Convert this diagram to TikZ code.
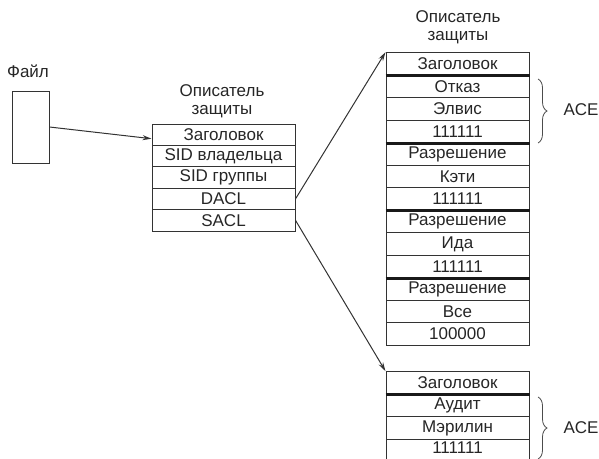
\documentclass[tikz,border=0pt]{standalone}
\usepackage{fontspec}
\setmainfont{Liberation Sans}
\usetikzlibrary{positioning}
\usetikzlibrary{arrows.meta}
\usetikzlibrary{decorations.pathreplacing}
\tikzstyle{rowbox}=[rectangle,draw=black!80,line width=1pt,minimum width=143pt,minimum height=21.4pt,inner sep=0pt,text=black!85]
\tikzstyle{acerow}=[rowbox,minimum height=22.5pt]
\tikzstyle{sepline}=[draw,black!90,line width=3pt]
\tikzstyle{edge}=[draw,line width=1pt,black!80,-{Stealth[length=9pt,width=5pt]}]
\tikzstyle{headtext}=[align=center,text=black!85]
\tikzstyle{acebrace}=[draw,black!70,line width=0.8pt,decorate,decoration={brace,amplitude=9pt}]
\begin{document}
\begin{tikzpicture}[x=1pt,y=-1pt,font=\fontsize{17}{18}\selectfont]
    \useasboundingbox (0,0) rectangle (599,458);
    \clip (0,0) rectangle (599,458);
    % The file and its descriptor
    \node[headtext] (filetext) at (28,71) {Файл};
    \node[draw=black!80,line width=1pt,minimum width=37pt,minimum height=72pt] (file) at (30.5,127) {};
    \node[headtext] (midtitle) at (222,101) {Описатель\\защиты};

    \foreach \pos/\name/\label in {{(223.5,134.7)/m1/Заголовок}, {(223.5,156.1)/m2/SID владельца},
        {(223.5,177.5)/m3/SID группы}, {(223.5,198.9)/m4/DACL}, {(223.5,220.3)/m5/SACL}}
        \node[rowbox] (\name) at \pos {\label};

    % Now the two lists of ACEs
    \node[headtext] (toptitle) at (458,27) {Описатель\\защиты};
    \foreach \label [count=\i] in {Заголовок, Отказ, Элвис, 111111, Разрешение, Кэти, 111111,
        Разрешение, Ида, 111111, Разрешение, Все, 100000}
        \node[acerow] (r\i) at (457.5,41.45+22.5*\i) {\label};

    \foreach \pos/\name/\label in {{(457.5,382.95)/b1/Заголовок}, {(457.5,405.45)/b2/Аудит},
        {(457.5,427.95)/b3/Мэрилин}}
        \node[acerow] (\name) at \pos {\label};
    \node[acerow,text depth=6pt] (b4) at (457.5,450.45) {111111};

    \foreach \name in {r1, r4, r7, r10, b1}
        \path[sepline] (\name.south west) -- (\name.south east);

    % Braces with the ACE labels
    \coordinate (topbrace1) at (538,79);
    \coordinate (topbrace2) at (538,143);
    \coordinate (botbrace1) at (538,397);
    \coordinate (botbrace2) at (538,459);
    \path[acebrace] (topbrace1) -- (topbrace2);
    \path[acebrace] (botbrace1) -- (botbrace2);
    \node[headtext] (ace1) at (581,110) {ACE};
    \node[headtext] (ace2) at (581,428) {ACE};

    % Connect with arrows
    \path[edge] (file.east) -- ([yshift=-4pt]m1.west);
    \path[edge] (m4.east) -- (r1.north west);
    \path[edge] (m5.east) -- (b1.north west);
\end{tikzpicture}
\end{document}
